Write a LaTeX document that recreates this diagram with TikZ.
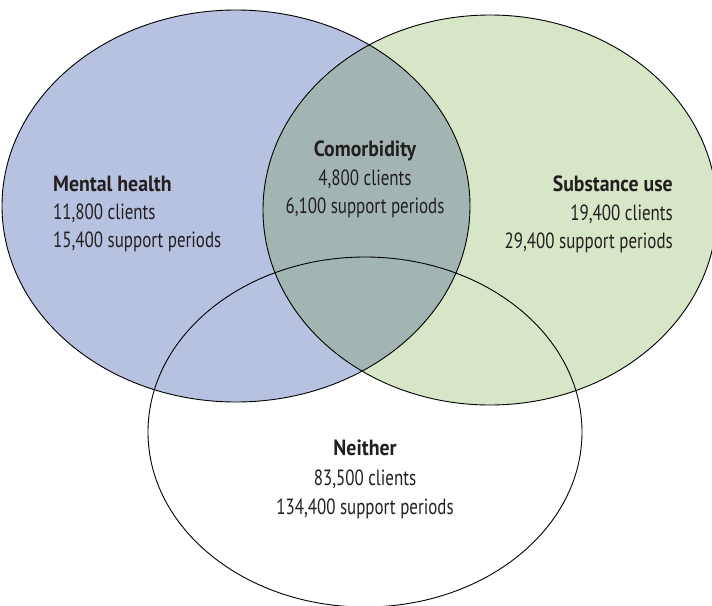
\documentclass[tikz,border=0pt]{standalone}
\usepackage{fontspec}
\setmainfont{PT Sans}[FakeStretch=0.77,BoldFeatures={FakeStretch=0.9}]
\definecolor{mhblue}{RGB}{183,194,225}
\definecolor{sugreen}{RGB}{214,230,199}
\definecolor{overlapc}{RGB}{162,181,178}
\definecolor{txt}{RGB}{35,31,32}
\begin{document}
\begin{tikzpicture}[x=1pt,y=-1pt,
  outline/.style={draw=black,line width=0.9pt},
  lbl/.style={inner sep=0pt,text=txt,font=\fontsize{22}{26}\selectfont},
  hdr/.style={lbl,font=\fontsize{22}{26}\selectfont\bfseries}]
\useasboundingbox (0,0) rectangle (712,605);
% fills
\fill[mhblue] (236,206) ellipse [x radius=234,y radius=196];
\fill[sugreen] (490,210) ellipse [x radius=227,y radius=195];
\begin{scope}
  \clip (236,206) ellipse [x radius=234,y radius=196];
  \fill[overlapc] (490,210) ellipse [x radius=227,y radius=195];
\end{scope}
% outlines
\draw[outline] (236,206) ellipse [x radius=234,y radius=196];
\draw[outline] (490,210) ellipse [x radius=227,y radius=195];
\draw[outline] (365,432) ellipse [x radius=217,y radius=175];
% texts
\node[hdr,anchor=base west] (mh1) at (53,191) {Mental health};
\node[lbl,anchor=base west] (mh2) at (53,219) {11,800 clients};
\node[lbl,anchor=base west] (mh3) at (53,247) {15,400 support periods};
\node[hdr,anchor=base] (co1) at (365,156) {Comorbidity};
\node[lbl,anchor=base] (co2) at (365,185) {4,800 clients};
\node[lbl,anchor=base] (co3) at (365,213) {6,100 support periods};
\node[hdr,anchor=base east] (su1) at (673,191) {Substance use};
\node[lbl,anchor=base east] (su2) at (673,220) {19,400 clients};
\node[lbl,anchor=base east] (su3) at (673,248) {29,400 support periods};
\node[hdr,anchor=base] (ne1) at (365,455) {Neither};
\node[lbl,anchor=base] (ne2) at (365,485) {83,500 clients};
\node[lbl,anchor=base] (ne3) at (365,514) {134,400 support periods};
\end{tikzpicture}
\end{document}
